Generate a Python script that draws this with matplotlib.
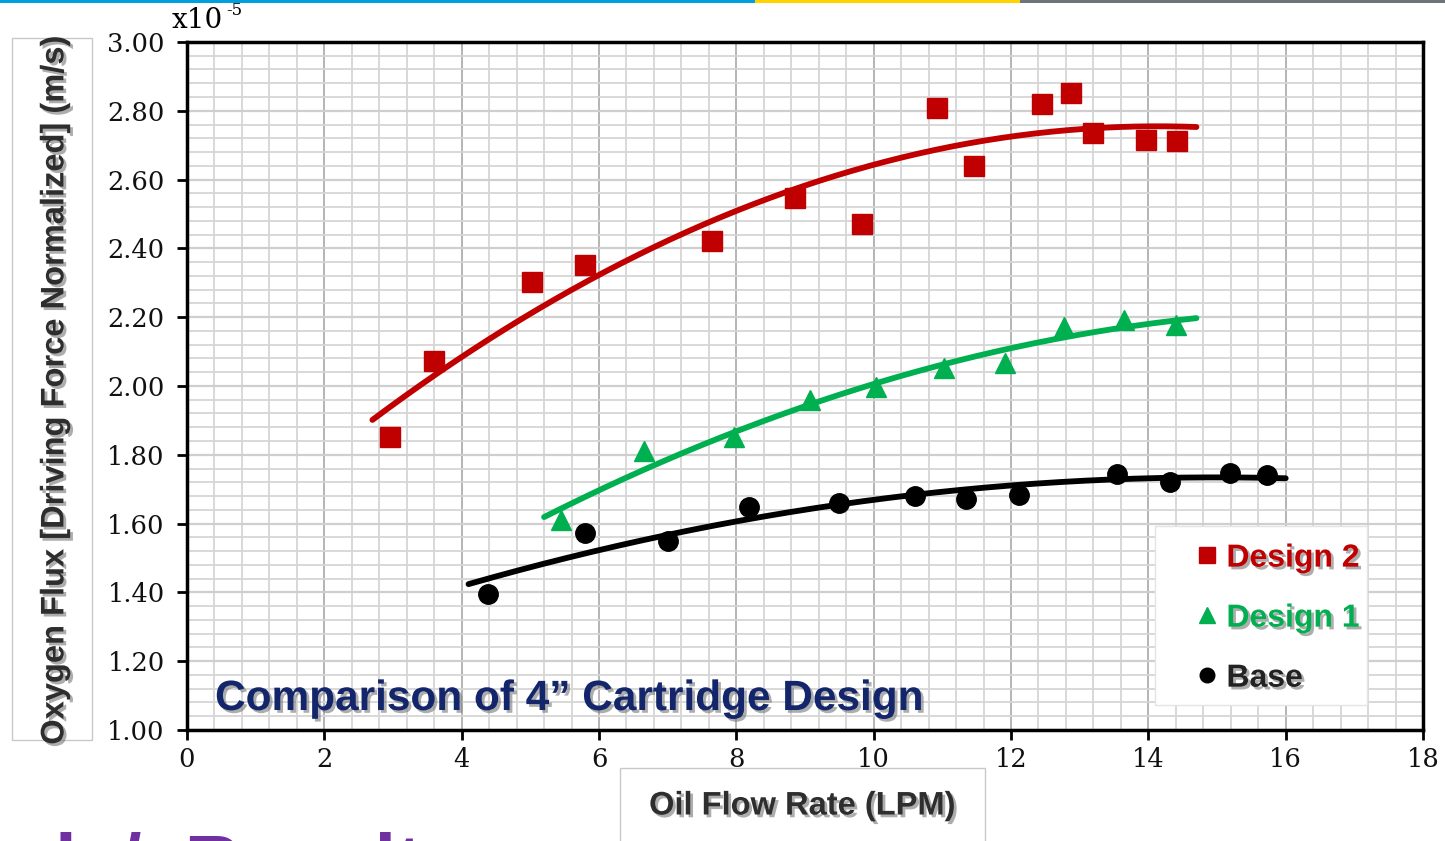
import numpy as np
import matplotlib.pyplot as plt
import matplotlib.patheffects as pe
from matplotlib.patches import Rectangle
from matplotlib.ticker import MultipleLocator

# valores (fluxo em x10^-5 m/s)
design2_x = [2.95, 3.60, 5.02, 5.79, 7.64, 8.85, 9.83, 10.92, 11.46, 12.45, 12.88, 13.20, 13.97, 14.41]
design2_y = [1.852, 2.073, 2.302, 2.352, 2.422, 2.547, 2.471, 2.808, 2.640, 2.820, 2.852, 2.735, 2.715, 2.712]

design1_x = [5.44, 6.65, 7.96, 9.07, 10.04, 11.02, 11.91, 12.77, 13.64, 14.40]
design1_y = [1.610, 1.811, 1.852, 1.959, 1.997, 2.052, 2.067, 2.172, 2.192, 2.177]

base_x = [4.38, 5.79, 7.00, 8.19, 9.49, 10.60, 11.35, 12.11, 13.55, 14.31, 15.19, 15.73]
base_y = [1.395, 1.573, 1.549, 1.648, 1.660, 1.680, 1.672, 1.683, 1.744, 1.721, 1.747, 1.741]

# faixa de cada linha de tendencia
design2_range = [2.7, 14.7]
design1_range = [5.2, 14.7]
base_range = [4.1, 16.0]

labels = ['Design 2', 'Design 1', 'Base']
xticks = [0, 2, 4, 6, 8, 10, 12, 14, 16, 18]
yticks = [1.00, 1.20, 1.40, 1.60, 1.80, 2.00, 2.20, 2.40, 2.60, 2.80, 3.00]

red = '#c00000'
green = '#00b050'
black = '#000000'
sans = ['Liberation Sans', 'DejaVu Sans']
shadow = [pe.withSimplePatchShadow(offset=(2, -2), shadow_rgbFace='#777777', alpha=0.6)]

fig = plt.figure(figsize=(14.45, 8.41), dpi=100)
fig.patch.set_facecolor('white')

# faixa colorida no topo do slide
fig.patches.append(Rectangle((0, 0.9964), 0.5225, 0.0036, transform=fig.transFigure, fc='#00a0e0', ec='none'))
fig.patches.append(Rectangle((0.5225, 0.9964), 0.1834, 0.0036, transform=fig.transFigure, fc='#ffd200', ec='none'))
fig.patches.append(Rectangle((0.7059, 0.9964), 0.2941, 0.0036, transform=fig.transFigure, fc='#6d747a', ec='none'))

# caixas dos titulos dos eixos
fig.patches.append(Rectangle((0.0083, 0.1201), 0.0554, 0.8347, transform=fig.transFigure,
                             fc='white', ec='#c8c8c8', lw=1, zorder=-1))
fig.patches.append(Rectangle((0.429, -0.01), 0.2526, 0.0968, transform=fig.transFigure,
                             fc='white', ec='#c8c8c8', lw=1, zorder=-1))

ax = fig.add_axes([0.1294, 0.1320, 0.8554, 0.8181])

def trend(x, y, rng):
    coef = np.polyfit(x, y, 2)
    xs = np.linspace(rng[0], rng[1], 200)
    return xs, np.polyval(coef, xs)

for xs, ys, rng, cor in [(design2_x, design2_y, design2_range, red),
                         (design1_x, design1_y, design1_range, green),
                         (base_x, base_y, base_range, black)]:
    tx, ty = trend(xs, ys, rng)
    ax.plot(tx, ty, color=cor, lw=4.2, solid_capstyle='round', zorder=3)

h2, = ax.plot(design2_x, design2_y, ls='none', marker='s', ms=15, color=red, zorder=4)
h1, = ax.plot(design1_x, design1_y, ls='none', marker='^', ms=15, color=green, zorder=4)
h0, = ax.plot(base_x, base_y, ls='none', marker='o', ms=14, color=black, zorder=4)

ax.set_xlim(0, 18)
ax.set_ylim(1.0, 3.0)
ax.set_xticks(xticks)
ax.set_yticks(yticks)
ax.set_xticklabels([str(v) for v in xticks])
ax.set_yticklabels([f'{v:.2f}' for v in yticks])
ax.xaxis.set_minor_locator(MultipleLocator(0.4))
ax.yaxis.set_minor_locator(MultipleLocator(0.04))
ax.set_axisbelow(True)
ax.grid(which='minor', color='#d6d6d6', lw=1.3)
ax.grid(which='major', axis='y', color='#cfcfcf', lw=1.6)
ax.grid(which='major', axis='x', color='#a8a8a8', lw=1.2)
ax.tick_params(which='minor', length=0)
ax.tick_params(which='major', direction='out', length=7, width=2, color='black')
ax.tick_params(axis='y', pad=9)
ax.tick_params(axis='x', pad=5)
for lab in ax.get_xticklabels() + ax.get_yticklabels():
    lab.set_fontfamily('DejaVu Serif')
    lab.set_fontsize(18.5)
    lab.set_color('#111111')
for sp in ax.spines.values():
    sp.set_linewidth(2.5)
    sp.set_color('black')

fig.text(0.119, 0.960, 'x10', fontfamily='DejaVu Serif', fontsize=20, ha='left', va='bottom')
fig.text(0.1565, 0.978, '-5', fontfamily='DejaVu Serif', fontsize=12, ha='left', va='bottom')

fig.text(0.038, 0.536, 'Oxygen Flux [Driving Force Normalized] (m/s)', rotation=90,
         ha='center', va='center', fontsize=23.5, fontweight='bold', color='#2e2e2e',
         family=sans, path_effects=shadow)
fig.text(0.555, 0.0416, 'Oil Flow Rate (LPM)', ha='center', va='center', fontsize=23.5,
         fontweight='bold', color='#2e2e2e', family=sans, path_effects=shadow)

ax.text(0.0227, 0.045, 'Comparison of 4\u201d Cartridge Design', transform=ax.transAxes,
        ha='left', va='center', fontsize=30.5, fontweight='bold', color='#13266b',
        family=sans, path_effects=shadow, zorder=5)

# resto do titulo do slide, cortado na borda de baixo
fig.text(0.020, 0.011, 'd  /  Results', ha='left', va='top', fontsize=56, fontweight='bold',
         color='#7030a0', family=sans)

# legenda
ax.add_patch(Rectangle((0.783, 0.036), 0.172, 0.261, transform=ax.transAxes,
                       fc='white', ec='#e4e4e4', lw=1, zorder=5))
leg = ax.legend([h2, h1, h0], labels, loc='lower right', bbox_to_anchor=(0.972, 0.011),
                frameon=False, handletextpad=0.15, handlelength=0.9, labelspacing=0.94,
                markerscale=0.75, prop={'family': sans, 'size': 23, 'weight': 'bold'})
leg.set_zorder(6)
for txt, cor in zip(leg.get_texts(), [red, green, '#222222']):
    txt.set_color(cor)
    txt.set_path_effects(shadow)

fig.savefig('out.png', dpi=100)
